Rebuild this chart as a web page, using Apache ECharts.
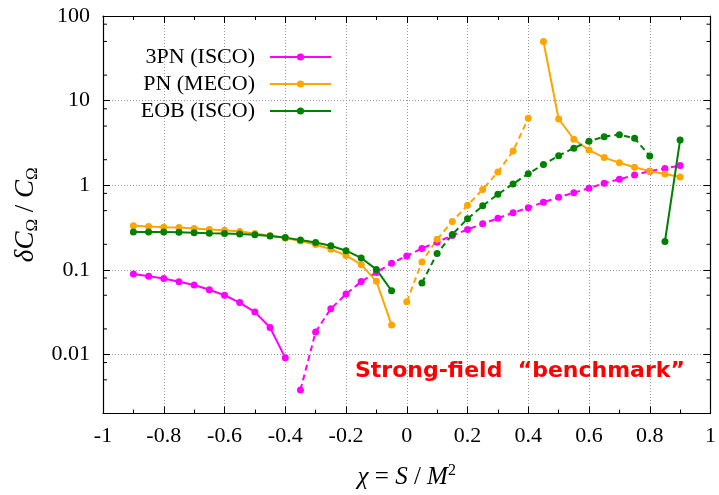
<!DOCTYPE html>
<html>
<head>
<meta charset="utf-8">
<script src="https://cdn.jsdelivr.net/npm/echarts@6/dist/echarts.min.js"></script>
<style>
html,body{margin:0;padding:0;background:#fff;}
#chart{width:719px;height:495px;}
</style>
</head>
<body>
<div id="chart"></div>
<script>
// ---------- data ----------
const xTicks = [-1, -0.8, -0.6, -0.4, -0.2, 0, 0.2, 0.4, 0.6, 0.8, 1];
const yTickLabels = ['0.01', '0.1', '1', '10', '100'];
const yMinorTicks = [0.005, 0.008, 0.02, 0.05, 0.08, 0.2, 0.5, 0.8, 2, 5, 8, 20, 50, 80];

// 3PN (ISCO)
const chi3PNsolid = [-0.9, -0.85, -0.8, -0.75, -0.7, -0.65, -0.6, -0.55, -0.5, -0.45, -0.4];
const val3PNsolid = [0.089, 0.084, 0.079, 0.072, 0.066, 0.058, 0.050, 0.041, 0.0316, 0.0208, 0.0091];
const chi3PNdash = [-0.35, -0.3, -0.25, -0.2, -0.15, -0.1, -0.05, 0, 0.05, 0.1, 0.15, 0.2, 0.25, 0.3, 0.35, 0.4, 0.45, 0.5, 0.55, 0.6, 0.65, 0.7, 0.75, 0.8, 0.85, 0.9];
const val3PNdash = [0.0038, 0.0184, 0.0346, 0.0516, 0.0725, 0.093, 0.1197, 0.1455, 0.179, 0.212, 0.255, 0.299, 0.349, 0.406, 0.472, 0.54, 0.629, 0.719, 0.814, 0.923, 1.055, 1.174, 1.318, 1.466, 1.577, 1.709];

// PN (MECO)
const chiPNsolidL = [-0.9, -0.85, -0.8, -0.75, -0.7, -0.65, -0.6, -0.55, -0.5, -0.45, -0.4, -0.35, -0.3, -0.25, -0.2, -0.15, -0.1, -0.05];
const valPNsolidL = [0.331, 0.325, 0.319, 0.316, 0.308, 0.300, 0.294, 0.284, 0.269, 0.253, 0.238, 0.219, 0.199, 0.175, 0.148, 0.115, 0.073, 0.0223];
const chiPNdash = [0, 0.05, 0.1, 0.15, 0.2, 0.25, 0.3, 0.35, 0.4];
const valPNdash = [0.042, 0.124, 0.229, 0.373, 0.578, 0.891, 1.428, 2.53, 6.18];
const chiPNsolidR = [0.45, 0.5, 0.55, 0.6, 0.65, 0.7, 0.75, 0.8, 0.85, 0.9];
const valPNsolidR = [49.9, 6.06, 3.49, 2.60, 2.12, 1.84, 1.63, 1.466, 1.353, 1.25];

// EOB (ISCO)
const chiEOBsolidL = [-0.9, -0.85, -0.8, -0.75, -0.7, -0.65, -0.6, -0.55, -0.5, -0.45, -0.4, -0.35, -0.3, -0.25, -0.2, -0.15, -0.1, -0.05];
const valEOBsolidL = [0.279, 0.279, 0.279, 0.277, 0.274, 0.271, 0.269, 0.264, 0.260, 0.251, 0.240, 0.225, 0.210, 0.192, 0.168, 0.138, 0.101, 0.0565];
const chiEOBdash = [0.05, 0.1, 0.15, 0.2, 0.25, 0.3, 0.35, 0.4, 0.45, 0.5, 0.55, 0.6, 0.65, 0.7, 0.75, 0.8];
const valEOBdash = [0.070, 0.156, 0.262, 0.401, 0.570, 0.780, 1.036, 1.368, 1.754, 2.23, 2.74, 3.31, 3.75, 3.95, 3.58, 2.21];
const chiEOBsolidR = [0.85, 0.9];
const valEOBsolidR = [0.216, 3.43];

const names = ['3PN (ISCO)', 'PN (MECO)', 'EOB (ISCO)'];
const colors = ['#ff00ff', '#ffa500', '#008000'];

// ---------- build ----------
const zip = (xs, ys) => xs.map((x, i) => [x, ys[i]]);
function lineSeries(name, color, xs, ys, dashed) {
  return {
    name: name, type: 'line', data: zip(xs, ys),
    xAxisIndex: 0, yAxisIndex: 0,
    symbol: 'circle', symbolSize: 7, showSymbol: true,
    itemStyle: {color: color},
    lineStyle: {color: color, width: 2, type: dashed ? [6, 4] : 'solid'},
    emphasis: {disabled: true}, animation: false, z: 3
  };
}

const serif = '"Liberation Serif", "DejaVu Serif", serif';
const gridL = 103, gridR = 6, gridT = 16, gridB = 74;
const gridLine = {show: true, lineStyle: {color: '#999', width: 1, type: [1, 2]}};

const isDecade = v => Math.abs(Math.log10(v) - Math.round(Math.log10(v))) < 1e-6;

const chart = echarts.init(document.getElementById('chart'), null, {renderer: 'canvas'});
const option = {
  animation: false,
  backgroundColor: '#fff',
  grid: {left: gridL, right: gridR, top: gridT, bottom: gridB, containLabel: false},
  xAxis: [{
    type: 'value', min: -1, max: 1, interval: 0.2, position: 'bottom',
    name: '{i|χ}{n| = }{i|S}{n| / }{i|M}{sup|2}',
    nameLocation: 'middle', nameGap: 49,
    nameTextStyle: {
      rich: {
        i: {fontFamily: serif, fontStyle: 'italic', fontSize: 25, color: '#000'},
        n: {fontFamily: serif, fontSize: 25, color: '#000'},
        sup: {fontFamily: serif, fontSize: 16, color: '#000', padding: [0, 0, 14, 0]}
      }
    },
    axisLine: {show: true, onZero: false, lineStyle: {color: '#000', width: 1.2}},
    axisTick: {show: true, inside: true, length: 7, lineStyle: {color: '#000', width: 1}},
    minorTick: {show: true, splitNumber: 2, length: 4, lineStyle: {color: '#000', width: 1}},
    axisLabel: {fontFamily: serif, fontSize: 22, color: '#000', margin: 12,
      formatter: v => String(+v.toFixed(1))},
    splitLine: gridLine
  }, {
    type: 'value', min: -1, max: 1, interval: 0.2, position: 'top',
    axisLine: {show: true, onZero: false, lineStyle: {color: '#000', width: 1.2}},
    axisTick: {show: true, inside: true, length: 7, lineStyle: {color: '#000', width: 1}},
    minorTick: {show: true, splitNumber: 2, length: 4, lineStyle: {color: '#000', width: 1}},
    axisLabel: {show: false}, splitLine: {show: false}
  }],
  yAxis: [{
    type: 'log', logBase: 10, min: 0.002, max: 100, position: 'left',
    name: '{i|δC}{s|Ω}{n| / }{i|C}{s|Ω}',
    nameLocation: 'middle', nameGap: 62,
    nameTextStyle: {
      rich: {
        i: {fontFamily: serif, fontStyle: 'italic', fontSize: 27, color: '#000'},
        n: {fontFamily: serif, fontSize: 27, color: '#000'},
        s: {fontFamily: serif, fontSize: 17, color: '#000', padding: [12, 0, 0, 0]}
      }
    },
    axisLine: {show: true, onZero: false, lineStyle: {color: '#000', width: 1.2}},
    axisTick: {show: true, inside: true, length: 7, lineStyle: {color: '#000', width: 1}},
    axisLabel: {fontFamily: serif, fontSize: 22, color: '#000', margin: 13,
      formatter: v => isDecade(v) ? yTickLabels[Math.round(Math.log10(v)) + 2] : ''},
    splitLine: gridLine
  }, {
    type: 'log', logBase: 10, min: 0.002, max: 100, position: 'right',
    axisLine: {show: true, onZero: false, lineStyle: {color: '#000', width: 1.2}},
    axisTick: {show: true, inside: true, length: 7, lineStyle: {color: '#000', width: 1}},
    axisLabel: {show: false}, splitLine: {show: false}
  }],
  legend: names.map((n, i) => ({
    data: [n], orient: 'horizontal', align: 'right',
    right: 387, top: [46, 73, 100][i], padding: 0,
    itemWidth: 61, itemHeight: 9, itemGap: 0,
    textStyle: {fontFamily: serif, fontSize: 22, color: '#000', padding: [0, 10, 0, 0]},
    selectedMode: false
  })),
  graphic: [{
    type: 'text', left: 355, top: 360, z: 10,
    style: {text: 'Strong-field  “benchmark”', fill: '#ff0000',
      font: 'bold 22px "DejaVu Sans", sans-serif'}
  }],
  series: [
    lineSeries(names[0], colors[0], chi3PNsolid, val3PNsolid, false),
    lineSeries(names[0], colors[0], chi3PNdash, val3PNdash, true),
    lineSeries(names[1], colors[1], chiPNsolidL, valPNsolidL, false),
    lineSeries(names[1], colors[1], chiPNdash, valPNdash, true),
    lineSeries(names[1], colors[1], chiPNsolidR, valPNsolidR, false),
    lineSeries(names[2], colors[2], chiEOBsolidL, valEOBsolidL, false),
    lineSeries(names[2], colors[2], chiEOBdash, valEOBdash, true),
    lineSeries(names[2], colors[2], chiEOBsolidR, valEOBsolidR, false),
    {
      type: 'custom', name: 'minorTicks', coordinateSystem: 'cartesian2d',
      xAxisIndex: 0, yAxisIndex: 0, silent: true, clip: false, z: 5,
      data: yMinorTicks.map(v => [0, v]),
      encode: {x: 0, y: 1},
      renderItem: function (params, api) {
        const v = api.value(1);
        const pL = api.coord([-1, v]);
        const pR = api.coord([1, v]);
        const st = {stroke: '#000', lineWidth: 1};
        return {type: 'group', children: [
          {type: 'line', shape: {x1: pL[0], y1: pL[1], x2: pL[0] + 4, y2: pL[1]}, style: st},
          {type: 'line', shape: {x1: pR[0] - 4, y1: pR[1], x2: pR[0], y2: pR[1]}, style: st}
        ]};
      }
    }
  ]
};
chart.setOption(option);
</script>
</body>
</html>
